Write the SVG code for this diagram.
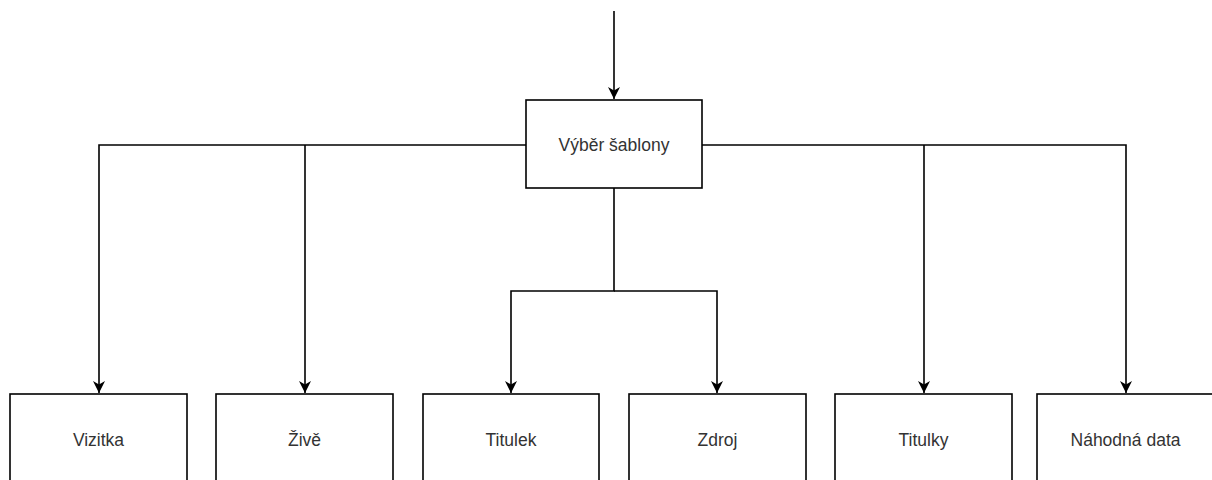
<svg xmlns="http://www.w3.org/2000/svg" width="1212" height="480" viewBox="0 0 1212 480">
<style>
.box{fill:#fff;stroke:#000;stroke-width:1.6}
.lbl{font-family:"Liberation Sans",Arial,sans-serif;font-size:17.5px;fill:#333;text-anchor:middle;dominant-baseline:central}
.edge{fill:none;stroke:#000;stroke-width:1.6}
</style>
<defs>
<marker id="arr" viewBox="0 0 10 10" refX="10" refY="5" markerWidth="12" markerHeight="12" markerUnits="userSpaceOnUse" orient="auto">
<path d="M0,0 L10,5 L0,10 L3,5 Z" fill="#000"/>
</marker>
</defs>
<g id="edges">
<path class="edge" d="M614,11 V99" marker-end="url(#arr)"/>
<path class="edge" d="M526,145 H99 V393" marker-end="url(#arr)"/>
<path class="edge" d="M305,145 V393" marker-end="url(#arr)"/>
<path class="edge" d="M702,145 H1126 V393" marker-end="url(#arr)"/>
<path class="edge" d="M924,145 V393" marker-end="url(#arr)"/>
<path class="edge" d="M614,188 V291 H511 V393" marker-end="url(#arr)"/>
<path class="edge" d="M614,291 H717 V393" marker-end="url(#arr)"/>
</g>
<g id="sablona"><rect class="box" x="526" y="100" width="176" height="88"/><text class="lbl" x="614" y="145">Výběr šablony</text></g>
<g id="vizitka"><rect class="box" x="10" y="394" width="177" height="100"/><text class="lbl" x="98.5" y="440">Vizitka</text></g>
<g id="zive"><rect class="box" x="216" y="394" width="177" height="100"/><text class="lbl" x="304.5" y="440">Živě</text></g>
<g id="titulek"><rect class="box" x="423" y="394" width="176" height="100"/><text class="lbl" x="511" y="440">Titulek</text></g>
<g id="zdroj"><rect class="box" x="629" y="394" width="177" height="100"/><text class="lbl" x="717.5" y="440">Zdroj</text></g>
<g id="titulky"><rect class="box" x="835" y="394" width="177" height="100"/><text class="lbl" x="923.5" y="440">Titulky</text></g>
<g id="nahodna"><rect class="box" x="1037" y="394" width="177" height="100"/><text class="lbl" x="1125.5" y="440">Náhodná data</text></g>
</svg>
